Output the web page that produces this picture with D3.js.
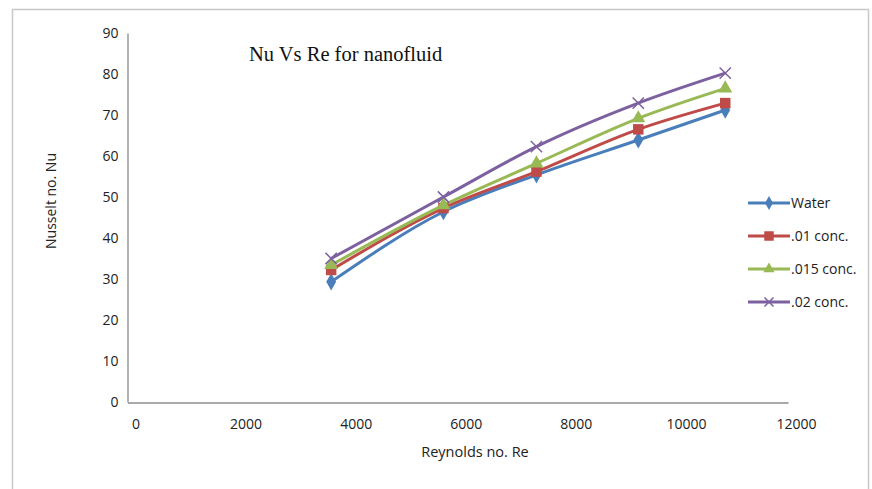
<!DOCTYPE html>
<html>
<head>
<meta charset="utf-8">
<script src="https://cdn.jsdelivr.net/npm/d3@7"></script>
<style>
  body { margin: 0; background: #fff; }
  svg { display: block; }
</style>
</head>
<body>
<div id="chart"></div>
<script>
// Reynolds numbers (x) and Nusselt numbers per series
const reynolds = [3700, 5740, 7430, 9280, 10860];
const water   = [29.3, 46.4, 55.4, 63.9, 71.2];
const conc01  = [32.2, 47.3, 56.2, 66.5, 72.9];
const conc015 = [33.4, 48.0, 58.2, 69.2, 76.5];
const conc02  = [35.0, 50.0, 62.3, 72.9, 80.2];

const seriesNames = ["Water", ".01 conc.", ".015 conc.", ".02 conc."];
const xTicks = [0, 2000, 4000, 6000, 8000, 10000, 12000];
const yTicks = [0, 10, 20, 30, 40, 50, 60, 70, 80, 90];

const width = 872;
const height = 489;

const colors = ["#4a7ebb", "#be4b48", "#98b954", "#7d60a0"];
const symbols = [d3.symbolDiamond, d3.symbolSquare, d3.symbolTriangle, d3.symbolTimes];

const series = [water, conc01, conc015, conc02].map((vals, i) => ({
  name: seriesNames[i],
  color: colors[i],
  symbol: symbols[i],
  points: vals.map((v, j) => ({ re: reynolds[j], nu: v }))
}));

const svg = d3.select("#chart")
  .append("svg")
  .attr("width", width)
  .attr("height", height);

// outer chart frame (cut off at the bottom as in the screenshot)
svg.append("rect")
  .attr("x", 12.5).attr("y", 9.5)
  .attr("width", 856).attr("height", 500)
  .attr("fill", "none")
  .attr("stroke", "#c8c8c8")
  .attr("stroke-width", 1.5);

const x = d3.scaleLinear().domain([0, 12000]).range([127.5, 788]);
const y = d3.scaleLinear().domain([0, 90]).range([402, 33]);

const axisFont = "'Open Sans', 'Liberation Sans', sans-serif";

// x axis
svg.append("g")
  .attr("transform", `translate(0,${y(0) + 0.5})`)
  .call(d3.axisBottom(x).tickValues(xTicks).tickFormat(d3.format("d"))
      .tickSize(0).tickSizeOuter(0).tickPadding(17))
  .call(g => g.select(".domain").attr("stroke", "#8c8c8c").attr("stroke-width", 1.3))
  .call(g => g.selectAll("text")
      .attr("dx", 8)
      .attr("font-family", axisFont)
      .attr("font-size", 14)
      .attr("fill", "#222"));

// y axis
svg.append("g")
  .attr("transform", `translate(${x(0)},0)`)
  .call(d3.axisLeft(y).tickValues(yTicks).tickFormat(d3.format("d"))
      .tickSize(0).tickSizeOuter(0).tickPadding(9))
  .call(g => g.select(".domain").attr("stroke", "#8c8c8c").attr("stroke-width", 1.3))
  .call(g => g.selectAll("text")
      .attr("font-family", axisFont)
      .attr("font-size", 14)
      .attr("fill", "#222"));

// axis titles
svg.append("text")
  .attr("x", 475).attr("y", 457)
  .attr("text-anchor", "middle")
  .attr("font-family", axisFont)
  .attr("font-size", 14.5)
  .attr("fill", "#222")
  .text("Reynolds no. Re");

svg.append("text")
  .attr("transform", "translate(56,201) rotate(-90)")
  .attr("text-anchor", "middle")
  .attr("font-family", axisFont)
  .attr("font-size", 14)
  .attr("fill", "#222")
  .text("Nusselt no. Nu");

// chart title
svg.append("text")
  .attr("x", 249).attr("y", 61)
  .attr("font-family", "'Liberation Serif', 'Times New Roman', serif")
  .attr("font-size", 20.5)
  .attr("fill", "#111")
  .text("Nu Vs Re for nanofluid");

const line = d3.line()
  .x(d => x(d.re))
  .y(d => y(d.nu))
  .curve(d3.curveMonotoneX);

function drawMarker(g, s, size) {
  if (s.symbol === d3.symbolTimes) {
    g.append("path")
      .attr("d", d3.symbol(s.symbol, size)())
      .attr("fill", "none")
      .attr("stroke", s.color)
      .attr("stroke-width", 1.5);
  } else {
    g.append("path")
      .attr("d", d3.symbol(s.symbol, size)())
      .attr("fill", s.color);
  }
}

const plot = svg.append("g");
series.forEach(s => {
  plot.append("path")
    .datum(s.points)
    .attr("fill", "none")
    .attr("stroke", s.color)
    .attr("stroke-width", 3)
    .attr("stroke-linejoin", "round")
    .attr("d", line);
});

series.forEach(s => {
  s.points.forEach(p => {
    const g = plot.append("g").attr("transform", `translate(${x(p.re)},${y(p.nu)})`);
    drawMarker(g, s, s.symbol === d3.symbolSquare ? 110 : 85);
  });
});

// legend
const legend = svg.append("g").attr("transform", "translate(748,203)");
series.forEach((s, i) => {
  const row = legend.append("g").attr("transform", `translate(0,${i * 33})`);
  row.append("line")
    .attr("x1", 0).attr("x2", 42)
    .attr("stroke", s.color)
    .attr("stroke-width", 3);
  const m = row.append("g").attr("transform", "translate(21,0)");
  drawMarker(m, s, s.symbol === d3.symbolSquare ? 90 : 55);
  row.append("text")
    .attr("x", 43).attr("y", 0)
    .attr("dy", "0.35em")
    .attr("font-family", axisFont)
    .attr("font-size", 14)
    .attr("fill", "#222")
    .text(s.name);
});
</script>
</body>
</html>
